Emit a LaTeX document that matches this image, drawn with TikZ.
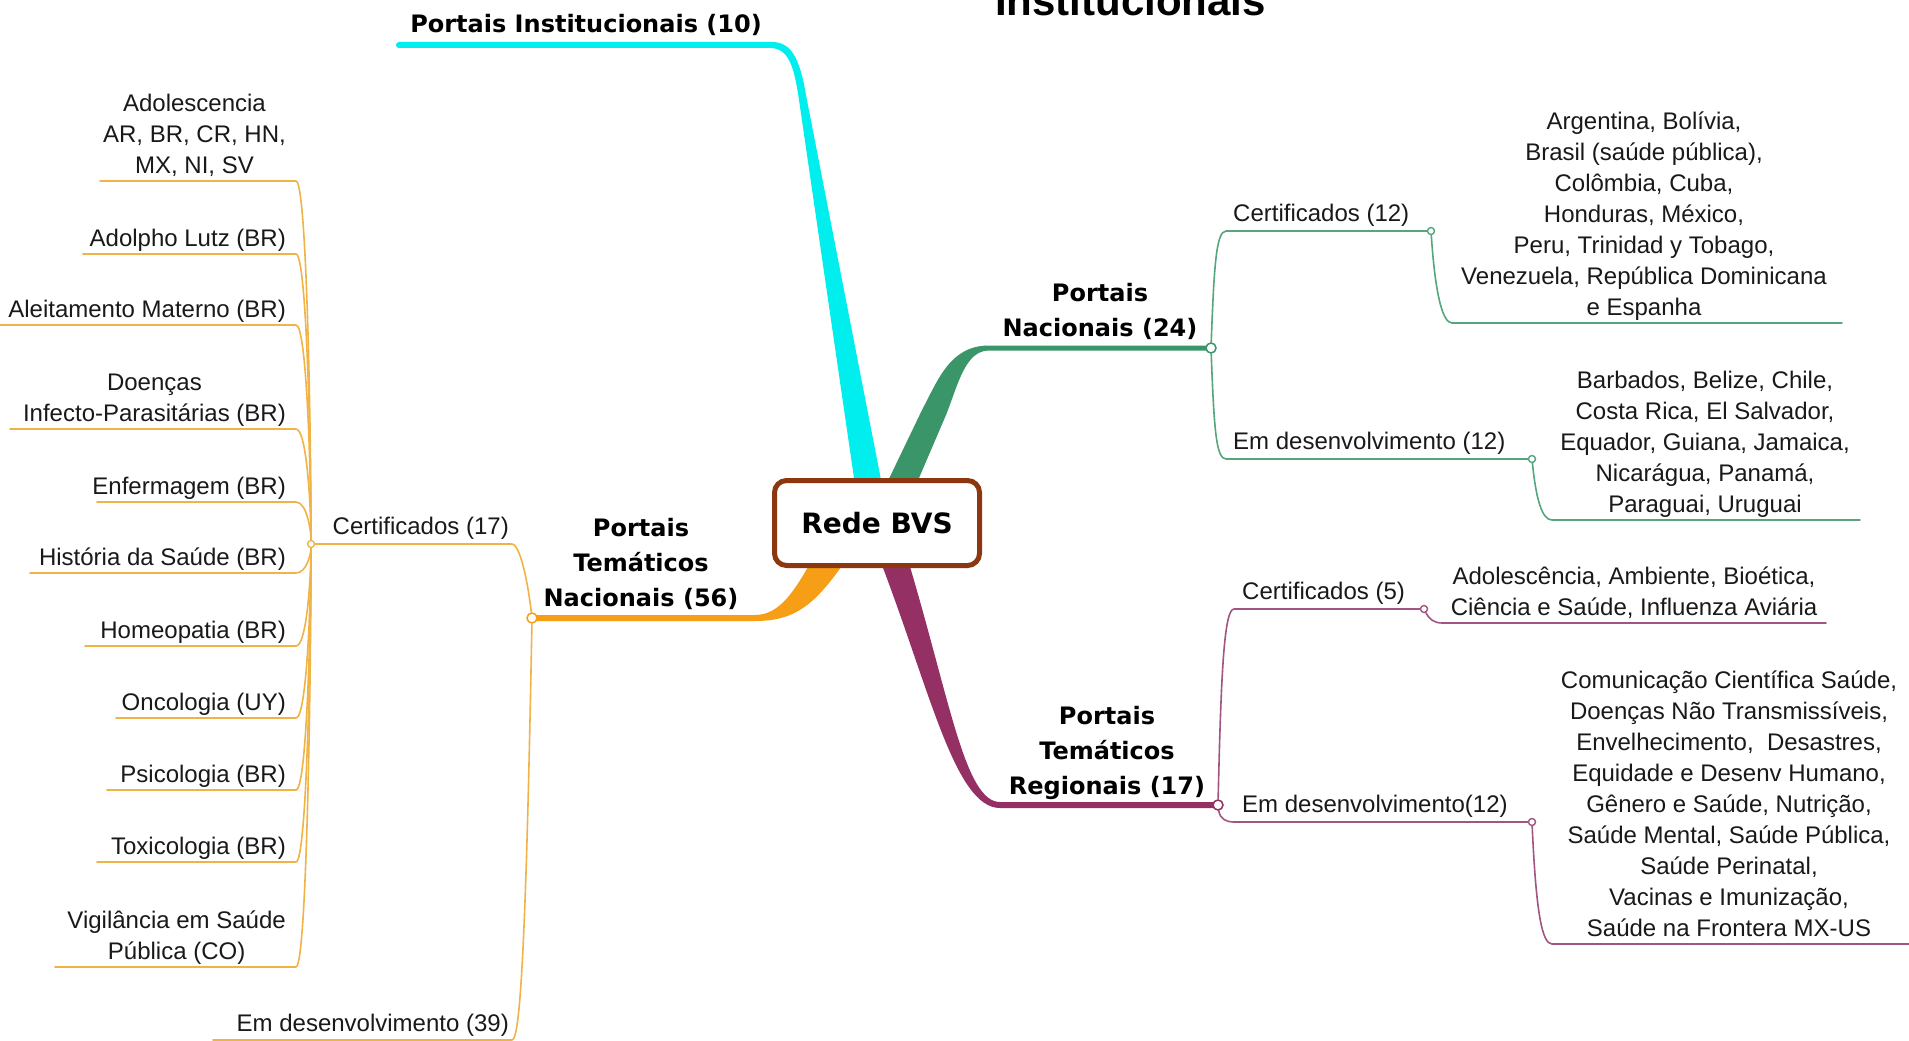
\documentclass[tikz,border=0pt]{standalone}
\usepackage{fontspec}
\setmainfont{Liberation Sans}
\newfontfamily\labfont{DejaVu Sans}
\newfontfamily\bigfont{Liberation Sans}
\usetikzlibrary{calc}
\definecolor{cyanC}{RGB}{0,238,238}
\definecolor{greenC}{RGB}{58,150,105}
\definecolor{greenT}{RGB}{85,165,125}
\definecolor{purpC}{RGB}{148,48,100}
\definecolor{purpT}{RGB}{160,85,130}
\definecolor{oranC}{RGB}{245,158,22}
\definecolor{oranT}{RGB}{240,180,70}
\definecolor{boxC}{RGB}{140,55,15}
\definecolor{txtC}{RGB}{25,25,25}
\newcommand{\lst}{\rule[-7pt]{0pt}{7pt}}
\tikzset{
  itm/.style={font=\fontsize{24}{31}\selectfont, inner sep=0pt, align=center, text=txtC},
  hd/.style={font=\labfont\bfseries\fontsize{24}{35}\selectfont, inner sep=0pt, align=center, text=black},
  jdot/.style={circle, draw=#1, fill=white, line width=1.5pt, inner sep=0pt, minimum size=10pt},
  jdotb/.style={circle, draw=#1, fill=white, line width=1.4pt, inner sep=0pt, minimum size=7pt},
  twig/.style={draw=#1, line width=1.6pt, line cap=round, line join=round},
}
\newcommand{\leftitem}[4]{%
  \coordinate (#1e) at (296,#2);
  \coordinate (#1s) at (#3,#2);
  \draw[twig=oranT] (#1s) -- (#1e) .. controls +(11,0) and ($(J1)!0.3!(J1 |- #1e)$) .. (J1);
  \node[itm, anchor=south east] (#1) at (286,#2) {#4\lst};
}
\begin{document}
\begin{tikzpicture}[x=1pt,y=-1pt]
\useasboundingbox (0,0) rectangle (1909,1041);
\clip (0,0) rectangle (1909,1041);
\fill[white] (0,0) rectangle (1909,1041);

% cropped title
\node[font=\bigfont\bfseries\fontsize{42}{50}\selectfont, anchor=base west, inner sep=0pt] (title) at (995,16) {Institucionais};

% thick branches
\fill[cyanC] (399,42) -- (772,42) .. controls (792,42) and (800,60) .. (806,95) -- (882,485) -- (855,485) -- (799,100) .. controls (794,65) and (788,48) .. (770,48) -- (399,48) -- cycle;
\fill[cyanC] (399,45) circle (3);
\fill[greenC] (1211,345.5) -- (989,345.5) .. controls (950,345.5) and (938,380) .. (922,410) -- (886,485) -- (916,485) -- (946,415) .. controls (958,385) and (965,350.5) .. (989,350.5) -- (1211,350.5) -- cycle;
\fill[purpC] (1218,802) -- (1000,802) .. controls (965,802) and (950,700) .. (908,560) -- (880,560) .. controls (930,690) and (955,808) .. (1000,808) -- (1218,808) -- cycle;
\fill[oranC] (532,615) -- (755,615) .. controls (780,615) and (795,590) .. (812,560) -- (846,560) .. controls (815,605) and (795,621) .. (755,621) -- (532,621) -- cycle;

% root
\node[draw=boxC, line width=5pt, rounded corners=12pt, fill=white, minimum width=205pt, minimum height=85pt, font=\labfont\bfseries\fontsize{28}{34}\selectfont] (root) at (877,523) {Rede BVS};

% junction dots
\node[jdot=greenC] (gc) at (1211,348) {};
\node[jdot=purpC] (pc) at (1218,805) {};
\node[jdot=oranC] (oc) at (532,618) {};
\node[jdotb=greenT] (g1c) at (1431,231) {};
\node[jdotb=greenT] (g2c) at (1532,459) {};
\node[jdotb=purpT] (p1c) at (1424,609) {};
\node[jdotb=purpT] (p2c) at (1532,822) {};
\node[jdotb=oranT] (J1) at (311,544) {};

% green twigs
\coordinate (g1s) at (1226,231);
\coordinate (g1u) at (1452,323);
\coordinate (g1z) at (1842,323);
\coordinate (g2s) at (1226,459);
\coordinate (g2u) at (1552,520);
\coordinate (g2z) at (1860,520);
\draw[twig=greenT] (gc) .. controls +(3,-80) and +(-10,0) .. (g1s) -- (g1c);
\draw[twig=greenT] (g1c) .. controls +(4,60) and +(-10,0) .. (g1u) -- (g1z);
\draw[twig=greenT] (gc) .. controls +(3,80) and +(-10,0) .. (g2s) -- (g2c);
\draw[twig=greenT] (g2c) .. controls +(4,40) and +(-10,0) .. (g2u) -- (g2z);

% purple twigs
\coordinate (p1s) at (1234,609);
\coordinate (p1u) at (1442,623);
\coordinate (p1z) at (1826,623);
\coordinate (p2s) at (1234,822);
\coordinate (p2u) at (1552,944);
\coordinate (p2z) at (1909,944);
\draw[twig=purpT] (pc) .. controls +(3,-130) and +(-10,0) .. (p1s) -- (p1c);
\draw[twig=purpT] (p1c) .. controls +(5,10) and +(-8,0) .. (p1u) -- (p1z);
\draw[twig=purpT] (pc) .. controls +(2,14) and +(-8,0) .. (p2s) -- (p2c);
\draw[twig=purpT] (p2c) .. controls +(4,90) and +(-10,0) .. (p2u) -- (p2z);

% orange twigs
\coordinate (o1s) at (512,544);
\coordinate (o2s) at (512,1040);
\coordinate (o2z) at (213,1040);
\draw[twig=oranT] (oc) .. controls +(-6,-50) and +(6,0) .. (o1s) -- (J1);
\draw[twig=oranT] (oc) .. controls +(-6,330) and +(8,0) .. (o2s) -- (o2z);

\leftitem{la}{181}{100}{Adolescencia\\AR, BR, CR, HN,\\MX, NI, SV}
\leftitem{lb}{254}{83}{Adolpho Lutz (BR)}
\leftitem{lc}{325}{0}{Aleitamento Materno (BR)}
\leftitem{ld}{429}{10}{Doenças\\Infecto-Parasitárias (BR)}
\leftitem{le}{502}{97}{Enfermagem (BR)}
\leftitem{lf}{573}{30}{História da Saúde (BR)}
\leftitem{lg}{646}{85}{Homeopatia (BR)}
\leftitem{lh}{718}{116}{Oncologia (UY)}
\leftitem{li}{790}{107}{Psicologia (BR)}
\leftitem{lj}{862}{97}{Toxicologia (BR)}
\leftitem{lk}{967}{55}{Vigilância em Saúde\\Pública (CO)}

% bold labels
\node[hd, anchor=south] (pinst) at (586,40) {Portais Institucionais (10)\lst};
\node[hd, anchor=south] (pnac) at (1100,344) {Portais\\Nacionais (24)\lst};
\node[hd, anchor=south] (ptn) at (641,614) {Portais\\Temáticos\\Nacionais (56)\lst};
\node[hd, anchor=south] (ptr) at (1107,802) {Portais\\Temáticos\\Regionais (17)\lst};

% regular labels
\node[itm, anchor=south west] (gcert) at (1233,229) {Certificados (12)\lst};
\node[itm, anchor=south west] (gdev) at (1233,457) {Em desenvolvimento (12)\lst};
\node[itm, anchor=south] (gl1) at (1644,323) {Argentina, Bolívia,\\Brasil (saúde pública),\\Colômbia, Cuba,\\Honduras, México,\\Peru, Trinidad y Tobago,\\Venezuela, República Dominicana\\e Espanha\lst};
\node[itm, anchor=south] (gl2) at (1705,520) {Barbados, Belize, Chile,\\Costa Rica, El Salvador,\\Equador, Guiana, Jamaica,\\Nicarágua, Panamá,\\Paraguai, Uruguai\lst};
\node[itm, anchor=south west] (pcert) at (1242,607) {Certificados (5)\lst};
\node[itm, anchor=south] (pl1) at (1634,623) {Adolescência, Ambiente, Bioética,\\Ciência e Saúde, Influenza Aviária\lst};
\node[itm, anchor=south west] (pdev) at (1242,820) {Em desenvolvimento(12)\lst};
\node[itm, anchor=south] (pl2) at (1729,944) {Comunicação Científica Saúde,\\Doenças Não Transmissíveis,\\Envelhecimento, \ Desastres,\\Equidade e Desenv Humano,\\Gênero e Saúde, Nutrição,\\Saúde Mental, Saúde Pública,\\Saúde Perinatal,\\Vacinas e Imunização,\\Saúde na Frontera MX-US\lst};
\node[itm, anchor=south east] (ocert) at (509,542) {Certificados (17)\lst};
\node[itm, anchor=south east] (odev) at (509,1039) {Em desenvolvimento (39)\lst};
\end{tikzpicture}
\end{document}
